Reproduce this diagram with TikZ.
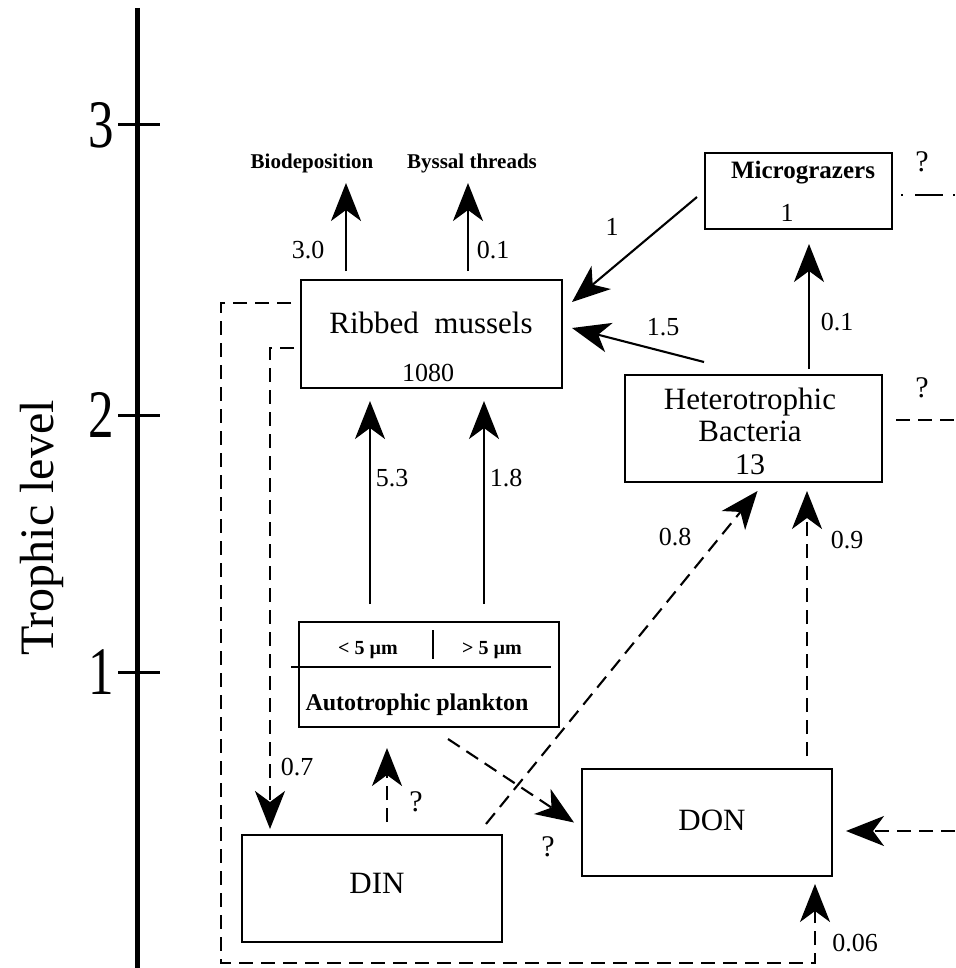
\documentclass[tikz,border=0pt]{standalone}
\usepackage{fontspec}
\setmainfont{Liberation Serif}
\usetikzlibrary{arrows.meta}

\tikzset{
  box/.style={draw, line width=1pt, inner sep=0pt},
  flow/.style={-{Stealth[length=19pt,width=15pt,inset=5.5pt]}, line width=1.05pt},
  dflow/.style={flow, dash pattern=on 7pt off 4pt},
  dline/.style={line width=1.05pt, dash pattern=on 7pt off 4pt},
  num/.style={font=\fontsize{13}{15}\selectfont, inner sep=0pt},
  qmark/.style={font=\fontsize{15}{17}\selectfont, inner sep=0pt},
  big/.style={font=\fontsize{15.5}{18}\selectfont, inner sep=0pt},
  small/.style={font=\bfseries\fontsize{10.5}{12}\selectfont, inner sep=0pt}
}

\begin{document}
\begin{tikzpicture}[x=0.5pt, y=-0.5pt]
  \useasboundingbox (0,0) rectangle (955,968);

  % trophic level axis
  \draw[line width=2.5pt] (137,8) -- (137,968);
  \foreach \ty/\tl in {125/3, 415/2, 672/1} {
    \draw[line width=1.5pt] (118,\ty) -- (160,\ty);
    \node[anchor=east, inner sep=0pt, font=\fontsize{34}{36}\selectfont] (tick\tl) at (114,\ty) {\scalebox{0.75}[1]{\tl}};
  }
  \node[rotate=90, inner sep=0pt, font=\fontsize{24}{26}\selectfont] (axlabel) at (42,528) {Trophic level};

  % compartments
  \node[box, minimum width=130.5pt, minimum height=54pt] (mussels) at (431.5,334) {};
  \node[box, minimum width=93.5pt, minimum height=38pt] (micro) at (798.5,191) {};
  \node[box, minimum width=128.5pt, minimum height=53.5pt] (bact) at (753.5,428.5) {};
  \node[box, minimum width=130pt, minimum height=52.5pt] (auto) at (429,674.5) {};
  \node[box, minimum width=130pt, minimum height=53.5pt] (din) at (372,888.5) {};
  \node[box, minimum width=125pt, minimum height=53.5pt] (don) at (707,822.5) {};

  % texts in the boxes
  \node[big] (musselsname) at (431,323) {Ribbed\ \ mussels};
  \node[num] (musselsval) at (428,373) {1080};
  \node[font=\bfseries\fontsize{12.5}{14}\selectfont, inner sep=0pt] (microname) at (803,173) {Micrograzers};
  \node[num] (microval) at (787,213) {1};
  \node[big] (bactname) at (750,402) {Heterotrophic};
  \node[big] (bactname2) at (750,431) {Bacteria};
  \node[font=\fontsize{15}{17}\selectfont, inner sep=0pt] (bactval) at (750,465) {13};
  \node[small, font=\bfseries\fontsize{10}{12}\selectfont] (lowsize) at (368,650) {< 5 µm};
  \node[small, font=\bfseries\fontsize{10}{12}\selectfont] (highsize) at (492,650) {> 5 µm};
  \node[font=\bfseries\fontsize{12}{14}\selectfont, inner sep=0pt] (autoname) at (417,705) {Autotrophic plankton};
  \node[big] (dinname) at (377,883) {DIN};
  \node[big] (donname) at (712,820) {DON};
  \draw[line width=0.9pt] (291,667) -- (551,667);
  \draw[line width=0.9pt] (433,630) -- (433,659);

  % outputs of the mussels
  \node[small] (biodep) at (312,163) {Biodeposition};
  \node[small] (byssus) at (472,163) {Byssal threads};
  \coordinate (biotip) at (346,183);
  \coordinate (byssustip) at (468,183);
  \draw[flow] (mussels.north -| biotip) ++(0,-8) -- (biotip);
  \draw[flow] (mussels.north -| byssustip) ++(0,-8) -- (byssustip);
  \node[num] (f30) at (308,250) {3.0};
  \node[num] (f01a) at (493,250) {0.1};

  % grazing
  \coordinate (aleft) at (370,0);
  \coordinate (aright) at (484,0);
  \draw[flow] (auto.north -| aleft) ++(0,-17) -- ([yshift=-6pt]mussels.south -| aleft);
  \draw[flow] (auto.north -| aright) ++(0,-17) -- ([yshift=-6pt]mussels.south -| aright);
  \node[num] (f53) at (392,478) {5.3};
  \node[num] (f18) at (506,478) {1.8};
  \draw[flow] (697,197) -- (572,302);
  \node[num] (f1) at (612,227) {1};
  \draw[flow] (bact.north west) ++(80,-12) -- (572,328);
  \node[num] (f15) at (663,327) {1.5};
  \coordinate (bmx) at (809,0);
  \draw[flow] (bact.north -| bmx) ++(0,-5) -- ([yshift=-7pt]micro.south -| bmx);
  \node[num] (f01b) at (837,322) {0.1};

  % nitrogen flows
  \coordinate (dox) at (807,0);
  \draw[dflow] (don.north -| dox) ++(0,-12) -- ([yshift=-4pt]bact.south -| dox);
  \node[num] (f09) at (847,540) {0.9};
  \draw[dflow] (din.north east) ++(-17,-10) -- ([xshift=2pt,yshift=-4pt]bact.south);
  \node[num] (f08) at (675,537) {0.8};
  \draw[dflow] (auto.south) ++(19,11) -- ([xshift=-3.5pt]don.west);
  \node[qmark] (q1) at (548,847) {?};
  \coordinate (dax) at (387,0);
  \draw[dflow] (din.north -| dax) ++(0,-12) -- ([yshift=-10pt]auto.south -| dax);
  \node[qmark] (q2) at (416,802) {?};
  \draw[dflow] (955,831) -- ([xshift=6.5pt]don.east |- 0,831);

  % recycling by the mussels
  \coordinate (inx) at (270,829);
  \draw[dflow] ([xshift=-3pt,yshift=-7pt]mussels.west) -| (inx);
  \node[num] (f07) at (297,767) {0.7};
  \coordinate (outx) at (815,884);
  \draw[dflow] ([xshift=-4.5pt,yshift=15.5pt]mussels.west) -| (221,963) -| (outx);
  \node[num] (f006) at (855,943) {0.06};

  % losses at the right edge
  \draw[line width=1.05pt, dash pattern=on 1pt off 6pt on 14pt off 5pt] (micro.east |- 0,195) ++(8,0) -- (955,195);
  \node[qmark] (q3) at (922,162) {?};
  \draw[dline] (bact.east |- 0,420) ++(13,0) -- (955,420);
  \node[qmark] (q4) at (922,388) {?};
\end{tikzpicture}
\end{document}
